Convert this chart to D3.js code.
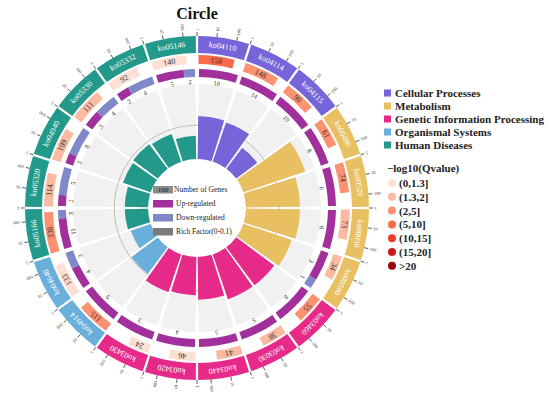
<!DOCTYPE html>
<html><head><meta charset="utf-8">
<script src="https://cdn.jsdelivr.net/npm/d3@7"></script>
<style>body{margin:0;background:#fff}svg{display:block}text{font-family:"Liberation Serif","Times New Roman",serif}</style>
</head><body>
<svg id="chart" width="550" height="399"></svg>
<script>
const categories = ["ko04110","ko04114","ko04115","ko00480","ko00520","ko00030","ko00590","ko03460","ko03030","ko03440","ko03420","ko03430","ko04914","ko04640","ko05166","ko05320","ko04940","ko05330","ko05332","ko05146"];
const classIndex = [0,0,0,1,1,1,1,2,2,2,2,2,3,3,4,4,4,4,4,4];
const geneNumbers = [158,148,90,61,74,73,34,55,38,41,46,24,115,133,338,114,109,111,92,140];
const qBinIndex = [3,2,2,2,2,1,1,2,1,1,0,0,2,0,2,1,1,1,0,0];
const upCounts = [18,14,10,8,6,6,3,8,5,5,4,3,9,4,11,2,3,3,2,5];
const downCounts = [0,0,0,0,0,0,1,0,0,0,0,0,0,3,3,5,8,4,4,2];
const richFactor = [0.057,0.055,0.035,0.087,0.072,0.072,0.068,0.063,0.063,0.057,0.051,0.053,0.044,0.028,0.031,0.031,0.039,0.041,0.039,0.031];
const classNames = ["Cellular Processes","Metabolism","Genetic Information Processing","Organismal Systems","Human Diseases"];
const classColors = ["#7664D9","#E8C062","#E62A8A","#6AAEDB","#22998A"];
const qBins = ["(0,1.3]","(1.3,2]","(2,5]","(5,10]","(10,15]","(15,20]",">20"];
const qColors = ["#FDE0D4","#FBBBA2","#FC9272","#FB6A4A","#EF3B2C","#CB181D","#99000D"];
const rulerTicks = [1,10,100];
const upColor = "#A1309C", downColor = "#7F88C9";

const svg = d3.select("#chart");
const cx = 197, cy = 208;
const deg = Math.PI/180;
const sector = d3.scaleBand().domain(categories).range([0, 2*Math.PI]);
const sw = sector.bandwidth();
const logScale = d3.scaleLog().domain([1,500]).range([0, sw]);
const barScale = d3.scaleLog().domain([1,600]).range([0, sw]);
const rfScale = d3.scaleLinear().domain([0,0.1]).range([49,124]);

const g = svg.append("g").attr("transform", `translate(${cx},${cy})`);
const arc = d3.arc();
function pt(a, r){ return [r*Math.sin(a), -r*Math.cos(a)]; }
function padA(r, px){ return px/ r; }

svg.append("text").attr("x",197).attr("y",19).attr("text-anchor","middle")
  .attr("font-size",16).attr("font-weight","bold").attr("fill","#111").text("Circle");

categories.forEach((c,i)=>{
  const a0 = sector(c), a1 = a0 + sw;
  g.append("path").attr("d", arc({innerRadius:49, outerRadius:124, startAngle:a0+padA(124,1.5), endAngle:a1-padA(124,1.5)}))
   .attr("fill","#F1F1F1");
});
g.append("circle").attr("r", rfScale(0.045)).attr("fill","none").attr("stroke","#BDBDBD").attr("stroke-width",1);
categories.forEach((c,i)=>{
  const a0 = sector(c), a1 = a0 + sw;
  const ro = rfScale(richFactor[i]);
  g.append("path").attr("d", arc({innerRadius:49, outerRadius:ro, startAngle:a0+padA(ro,1.2), endAngle:a1-padA(ro,1.2)}))
   .attr("fill", classColors[classIndex[i]]);
});

categories.forEach((c,i)=>{
  const a0 = sector(c), a1 = a0 + sw, am = a0 + sw/2;
  g.append("path").attr("d", arc({innerRadius:155, outerRadius:172, startAngle:a0+padA(172,1.2), endAngle:a1-padA(172,1.2)}))
   .attr("fill", classColors[classIndex[i]]);
  const [x,y] = pt(am, 163.5);
  g.append("text").attr("transform",`translate(${x},${y}) rotate(${am/deg})`)
   .attr("text-anchor","middle").attr("dominant-baseline","central")
   .attr("font-size",8).attr("fill","#fff").text(c);
  rulerTicks.forEach(t=>{
    const a = a0 + logScale(t);
    const [x1,y1] = pt(a,172), [x2,y2] = pt(a,176);
    g.append("line").attr("x1",x1).attr("y1",y1).attr("x2",x2).attr("y2",y2).attr("stroke","#333").attr("stroke-width",0.8);
    const [tx,ty] = pt(a,177.5);
    g.append("text").attr("transform",`translate(${tx},${ty}) rotate(${a/deg-90})`)
     .attr("text-anchor","start").attr("dominant-baseline","central")
     .attr("font-size",4.5).attr("fill","#333").text(t);
  });
  const b0 = a0 + padA(148,1.5), b1 = a0 + barScale(geneNumbers[i]);
  g.append("path").attr("d", arc({innerRadius:144, outerRadius:153, startAngle:b0, endAngle:b1}))
   .attr("fill", qColors[qBinIndex[i]]);
  const bm = (b0+b1)/2; const [gx,gy] = pt(bm,148.5);
  g.append("text").attr("transform",`translate(${gx},${gy}) rotate(${bm/deg})`)
   .attr("text-anchor","middle").attr("dominant-baseline","central")
   .attr("font-size",8).attr("fill","#333").text(geneNumbers[i]);
  const tot = upCounts[i] + downCounts[i];
  const ud = d3.scaleLinear().domain([0, tot]).range([a0+padA(135,2), a1-padA(135,2)]);
  const segs = [[0, upCounts[i], upColor, upCounts[i]], [upCounts[i], tot, downColor, downCounts[i]]];
  segs.forEach(s=>{
    if (s[3] <= 0) return;
    g.append("path").attr("d", arc({innerRadius:131, outerRadius:139, startAngle:ud(s[0]), endAngle:ud(s[1])}))
     .attr("fill", s[2]);
    const m = (ud(s[0])+ud(s[1]))/2; const [ux,uy] = pt(m,126.5);
    g.append("text").attr("transform",`translate(${ux},${uy}) rotate(${m/deg})`)
     .attr("text-anchor","middle").attr("dominant-baseline","central")
     .attr("font-size",6.5).attr("fill","#333").text(s[3]);
  });
});

const cl = [["Number of Genes","#8C8C8C","100"],["Up-regulated",upColor,""],["Down-regulated",downColor,""],["Rich Factor(0-0.1)","#7A7A7A",""]];
cl.forEach((d,i)=>{
  const y = 186 + i*14;
  svg.append("rect").attr("x",153).attr("y",y).attr("width",20).attr("height",7.5).attr("fill",d[1]);
  if (d[2]) svg.append("text").attr("x",163).attr("y",y+3.9).attr("text-anchor","middle").attr("dominant-baseline","central").attr("font-size",7).attr("fill","#222").text(d[2]);
  svg.append("text").attr("x", i===0?174:176).attr("y",y+3.9).attr("dominant-baseline","central").attr("font-size",7.5).attr("fill","#222").text(d[0]);
});

classNames.forEach((n,i)=>{
  const y = 93 + i*13;
  svg.append("rect").attr("x",384).attr("y",y-3.5).attr("width",7).attr("height",7).attr("fill",classColors[i]);
  svg.append("text").attr("x",395).attr("y",y).attr("dominant-baseline","central").attr("font-size",11).attr("font-weight","bold").attr("fill","#222").text(n);
});
svg.append("text").attr("x",387).attr("y",168).attr("dominant-baseline","central").attr("font-size",11).attr("font-weight","bold").attr("fill","#222").text("\u2212log10(Qvalue)");
qBins.forEach((b,i)=>{
  const y = 183 + i*13.8;
  svg.append("circle").attr("cx",392).attr("cy",y).attr("r",4).attr("fill",qColors[i]);
  svg.append("text").attr("x",399).attr("y",y).attr("dominant-baseline","central").attr("font-size",11).attr("font-weight","bold").attr("fill","#222").text(b);
});
</script>
</body></html>
